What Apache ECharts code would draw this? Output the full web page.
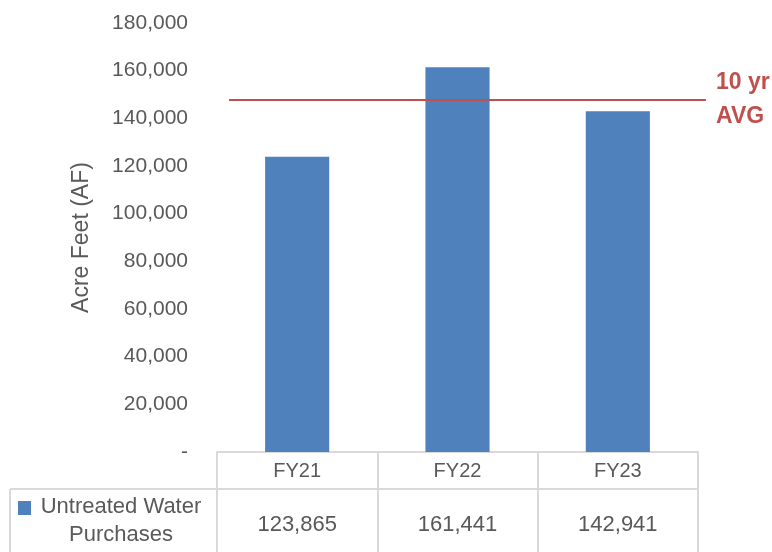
<!DOCTYPE html>
<html>
<head>
<meta charset="utf-8">
<script src="https://cdn.jsdelivr.net/npm/echarts@6/dist/echarts.min.js"></script>
<style>
html,body{margin:0;padding:0;background:#fff;}
#chart{width:772px;height:552px;}
</style>
</head>
<body>
<div id="chart"></div>
<script>
const categories = ['FY21', 'FY22', 'FY23'];
const purchases = [123865, 161441, 142941];
const seriesName = 'Untreated Water Purchases';
const tenYearAvg = 148000;
const yTicks = [0, 20000, 40000, 60000, 80000, 100000, 120000, 140000, 160000, 180000];

const FONT = '"Liberation Sans", Arial, sans-serif';
const GREY = '#595959';
const BORDER = '#D9D9D9';
const fmt = v => v.toLocaleString('en-US');

const chart = echarts.init(document.getElementById('chart'), null, {renderer: 'canvas'});
chart.setOption({
  animation: false,
  textStyle: {fontFamily: FONT},
  grid: {left: 217, right: 74, top: 23, bottom: 100, containLabel: false},
  xAxis: {
    type: 'category',
    data: categories,
    axisLine: {show: true, lineStyle: {color: BORDER, width: 2}},
    axisTick: {show: true, length: 100, lineStyle: {color: BORDER, width: 2}},
    axisLabel: {
      margin: 0,
      verticalAlign: 'top',
      formatter: (v, i) => '{c|' + v + '}\n{v|' + fmt(purchases[i]) + '}',
      rich: {
        c: {fontSize: 20, lineHeight: 38, color: GREY, fontFamily: FONT},
        v: {fontSize: 22, lineHeight: 70, color: GREY, fontFamily: FONT}
      }
    }
  },
  yAxis: {
    type: 'value',
    min: yTicks[0],
    max: yTicks[yTicks.length - 1],
    interval: yTicks[1] - yTicks[0],
    name: 'Acre Feet (AF)',
    nameLocation: 'middle',
    nameGap: 124,
    nameRotate: 90,
    nameTextStyle: {fontSize: 23, color: GREY, fontFamily: FONT},
    axisLine: {show: false},
    axisTick: {show: false},
    splitLine: {show: false},
    axisLabel: {
      margin: 29,
      fontSize: 21,
      color: GREY,
      fontFamily: FONT,
      formatter: v => (v === 0 ? '-' : fmt(v))
    }
  },
  series: [{
    name: seriesName,
    type: 'bar',
    data: purchases,
    barWidth: '40%',
    itemStyle: {color: '#4F81BD'},
    markLine: {
      silent: true,
      symbol: ['none', 'none'],
      lineStyle: {color: '#C0504D', width: 2, type: 'solid'},
      label: {
        show: true,
        position: 'end',
        distance: 10,
        formatter: '10 yr\nAVG',
        color: '#C0504D',
        fontWeight: 'bold',
        fontSize: 23,
        lineHeight: 34,
        fontFamily: FONT
      },
      data: [[{x: 229, yAxis: tenYearAvg}, {x: 706, yAxis: tenYearAvg}]]
    }
  }],
  graphic: [
    {type: 'line', shape: {x1: 10, y1: 489, x2: 698, y2: 489}, style: {stroke: BORDER, lineWidth: 2}},
    {type: 'line', shape: {x1: 10, y1: 489, x2: 10, y2: 552}, style: {stroke: BORDER, lineWidth: 2}},
    {type: 'rect', shape: {x: 18, y: 501, width: 13, height: 14}, style: {fill: '#4F81BD'}},
    {type: 'text', x: 121, y: 521, style: {text: 'Untreated Water\nPurchases', fill: GREY, font: '22px ' + FONT, align: 'center', verticalAlign: 'middle', lineHeight: 28}}
  ]
});
</script>
</body>
</html>
